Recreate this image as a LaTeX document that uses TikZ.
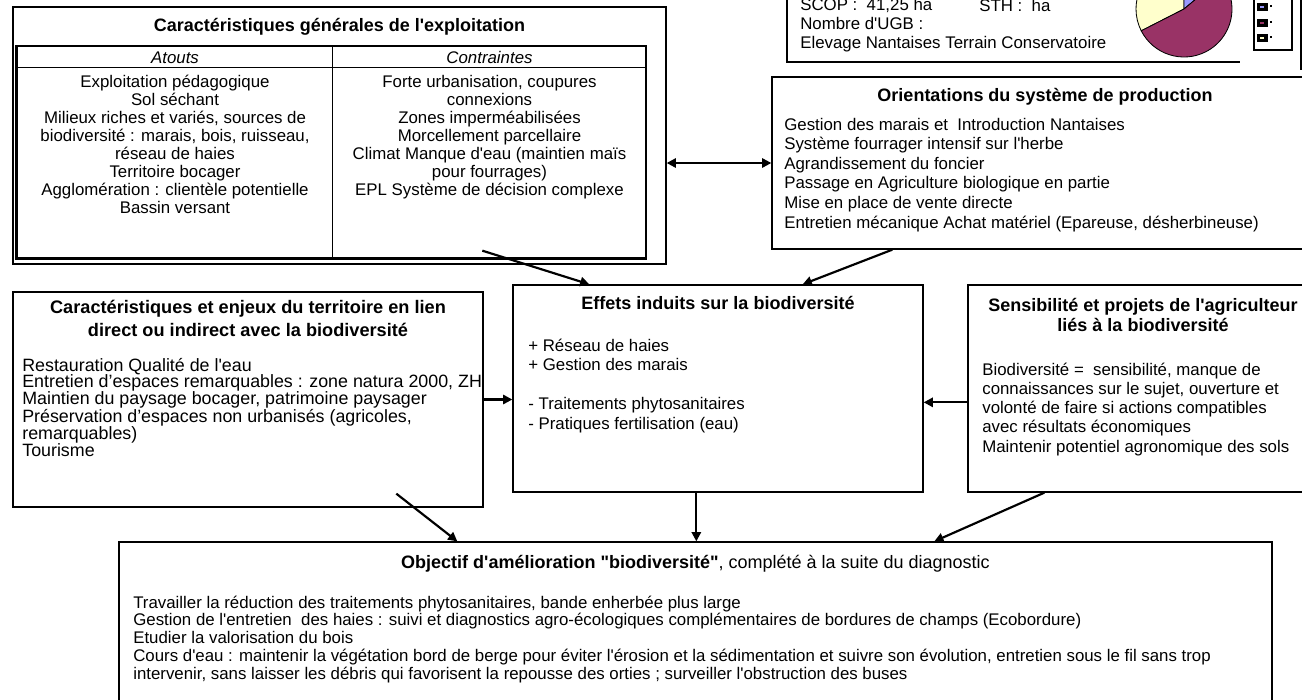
\documentclass[tikz,border=0pt]{standalone}
\usepackage{fontspec}
\setmainfont{Liberation Sans}
\newfontfamily\arial{Liberation Sans}
\usetikzlibrary{arrows.meta,positioning,fit,calc}
\definecolor{piejaune}{RGB}{255,255,204}
\definecolor{piebleu}{RGB}{153,153,255}
\definecolor{piebordeaux}{RGB}{153,51,102}

\begin{document}
\arial
\begin{tikzpicture}[
    x=0.6pt, y=-0.6pt,
    box/.style={draw, line width=0.8pt, inner sep=0pt},
    titre/.style={font=\fontsize{10.8}{13}\selectfont\bfseries, align=center,
                  inner sep=0pt, anchor=base},
    corps/.style={font=\fontsize{10.1}{11.7}\selectfont, align=left,
                  inner sep=0pt, anchor=base west},
    arrow/.style={-{Triangle[length=5.5pt, width=5.5pt]}, line width=1.3pt},
    dblarrow/.style={{Triangle[length=5.5pt, width=5.5pt]}-{Triangle[length=5.5pt, width=5.5pt]},
                     line width=1.3pt}
]
\useasboundingbox (0,0) rectangle (1302,699);

% Caracteristiques generales (multi-line texts are placed by their last line)
\node[box, fit={(13,7) (666,264)}] (exploit) {};
\node[box, fit={(17,46) (646,258)}] (tab) {};
\draw[line width=1.6pt] (tab.north west) -- (tab.south west) -- (tab.south east);
\draw[line width=0.8pt] ($(tab.north west)+(0,22)$) -- ($(tab.north east)+(0,22)$);
\draw[line width=0.8pt] ($(tab.north west)+(316,0)$) -- ($(tab.south west)+(316,0)$);
\node[titre] (t-exploit) at (339.5,31) {Caractéristiques générales de l'exploitation};
\node[corps, anchor=base, font=\fontsize{10.1}{11.7}\selectfont\itshape] (atouts) at (175,63) {Atouts};
\node[corps, anchor=base, font=\fontsize{10.1}{11.7}\selectfont\itshape] (contr) at (489.5,63) {Contraintes};
\node[corps, anchor=base, align=center, font=\fontsize{10.1}{10.86}\selectfont] (l-atouts) at (175,213.7)
  {Exploitation pédagogique\\Sol séchant\\Milieux riches et variés, sources de\\biodiversité : marais, bois, ruisseau,\\réseau de haies\\Territoire bocager\\Agglomération : clientèle potentielle\\Bassin versant};
\node[corps, anchor=base, align=center, font=\fontsize{10.1}{10.86}\selectfont] (l-contr) at (489.5,195.6)
  {Forte urbanisation, coupures\\connexions\\Zones imperméabilisées\\Morcellement parcellaire\\Climat Manque d'eau (maintien maïs\\pour fourrages)\\EPL Système de décision complexe};

% Donnees de l'exploitation
\draw[line width=0.8pt] (787,-5) -- (787,62) -- (1240,62);
\node[corps, font=\fontsize{10.1}{11.2}\selectfont] (infos) at (800,48.3)
  {SCOP :~~41,25 ha\\Nombre d'UGB :\\Elevage Nantaises Terrain Conservatoire};
\node[corps] (sth) at (979,11) {STH :~~ha};
\coordinate (pie) at (1184,9);
\filldraw[fill=piejaune, line width=0.5pt] (pie) -- ++(-90:48) arc[start angle=-90, end angle=-207, radius=48] -- cycle;
\filldraw[fill=piebleu, line width=0.5pt] (pie) -- ++(-40:48) arc[start angle=-40, end angle=-90, radius=48] -- cycle;
\filldraw[fill=piebordeaux, line width=0.5pt] (pie) -- ++(-207:48) arc[start angle=-207, end angle=-400, radius=48] -- cycle;
\node[box, fit={(1254,-5) (1292,50)}] (legende) {};
\foreach \yy/\cc in {3/piebleu, 19/piebordeaux, 34/piejaune} {
  \fill (1257,\yy) rectangle ++(11,8);
  \fill[\cc] (1260,\yy+3) rectangle ++(4,2);
  \fill (1270,\yy+2) rectangle ++(2,2);
}
\draw[line width=0.8pt] (1301,0) -- (1301,70);

% Orientations
\node[box, fit={(772,77) (1318,249)}] (orient) {};
\node[titre] (t-orient) at (1045,101) {Orientations du système de production};
\node[corps, font=\fontsize{10.1}{11.76}\selectfont] (l-orient) at (784,228)
  {Gestion des marais et~ Introduction Nantaises\\Système fourrager intensif sur l'herbe\\Agrandissement du foncier\\Passage en Agriculture biologique en partie\\Mise en place de vente directe\\Entretien mécanique Achat matériel (Epareuse, désherbineuse)};

% Territoire
\node[box, fit={(13,292) (483,507)}] (territ) {};
\node[titre, font=\fontsize{10.9}{13.8}\selectfont\bfseries] (t-territ) at (248,336)
  {Caractéristiques et enjeux du territoire en lien\\direct ou indirect avec la biodiversité};
\node[corps, font=\fontsize{10.7}{10}\selectfont] (l-territ) at (22,456.3)
  {Restauration Qualité de l'eau\\Entretien d’espaces remarquables : zone natura 2000, ZH\\Maintien du paysage bocager, patrimoine paysager\\Préservation d’espaces non urbanisés (agricoles,\\remarquables)\\Tourisme};

% Effets
\node[box, fit={(513,285) (923,492)}] (effets) {};
\node[titre] (t-effets) at (718,309) {Effets induits sur la biodiversité};
\node[corps] (l-effets) at (528,429)
  {+ Réseau de haies\\+ Gestion des marais\\[11.7pt]- Traitements phytosanitaires\\- Pratiques fertilisation (eau)};

% Sensibilite
\node[box, fit={(968,285) (1318,492)}] (sensib) {};
\node[titre, font=\fontsize{10.8}{12}\selectfont\bfseries] (t-sensib) at (1143,331)
  {Sensibilité et projets de l'agriculteur\\liés à la biodiversité};
\node[corps, font=\fontsize{10.1}{11.55}\selectfont] (l-sensib) at (982,452)
  {Biodiversité =~~sensibilité, manque de\\connaissances sur le sujet, ouverture et\\volonté de faire si actions compatibles\\avec résultats économiques\\Maintenir potentiel agronomique des sols};

% Objectif
\node[box, fit={(119,542) (1272,720)}] (objectif) {};
\node[titre, font=\fontsize{10.8}{13}\selectfont] (t-objectif) at (695.5,568)
  {\textbf{Objectif d'amélioration "biodiversité"}, complété à la suite du diagnostic};
\node[corps, font=\fontsize{10.1}{10.65}\selectfont] (l-objectif) at (133,679)
  {Travailler la réduction des traitements phytosanitaires, bande enherbée plus large\\Gestion de l'entretien~ des haies : suivi et diagnostics agro-écologiques complémentaires de bordures de champs (Ecobordure)\\Etudier la valorisation du bois\\Cours d'eau : maintenir la végétation bord de berge pour éviter l'érosion et la sédimentation et suivre son évolution, entretien sous le fil sans trop\\intervenir, sans laisser les débris qui favorisent la repousse des orties ; surveiller l'obstruction des buses};

% Fleches
\coordinate (d1) at ($(tab.south west)+(466,-8)$);
\coordinate (f1) at ($(effets.north west)+(77,0)$);
\coordinate (d2) at ($(orient.south west)+(121,0)$);
\coordinate (f2) at ($(effets.north east)+(-121,0)$);
\coordinate (d5) at ($(sensib.north west)+(0,118)$);
\coordinate (d6) at ($(territ.south west)+(384,-14)$);
\coordinate (f6) at ($(objectif.north west)+(339,0)$);
\coordinate (d7) at ($(effets.south west)+(184,0)$);
\coordinate (d8) at ($(sensib.south west)+(77,0)$);
\coordinate (f8) at ($(objectif.north west)+(816,0)$);

\draw[dblarrow] (exploit.east |- orient.west) -- (orient.west);
\draw[arrow] (d1) -- (f1);
\draw[arrow] (d2) -- (f2);
\draw[arrow] (territ.east) -- (territ.east -| effets.west);
\draw[arrow] (d5) -- (d5 -| effets.east);
\draw[arrow] (d6) -- (f6);
\draw[arrow] (d7) -- (d7 |- objectif.north);
\draw[arrow] (d8) -- (f8);

\end{tikzpicture}
\end{document}
